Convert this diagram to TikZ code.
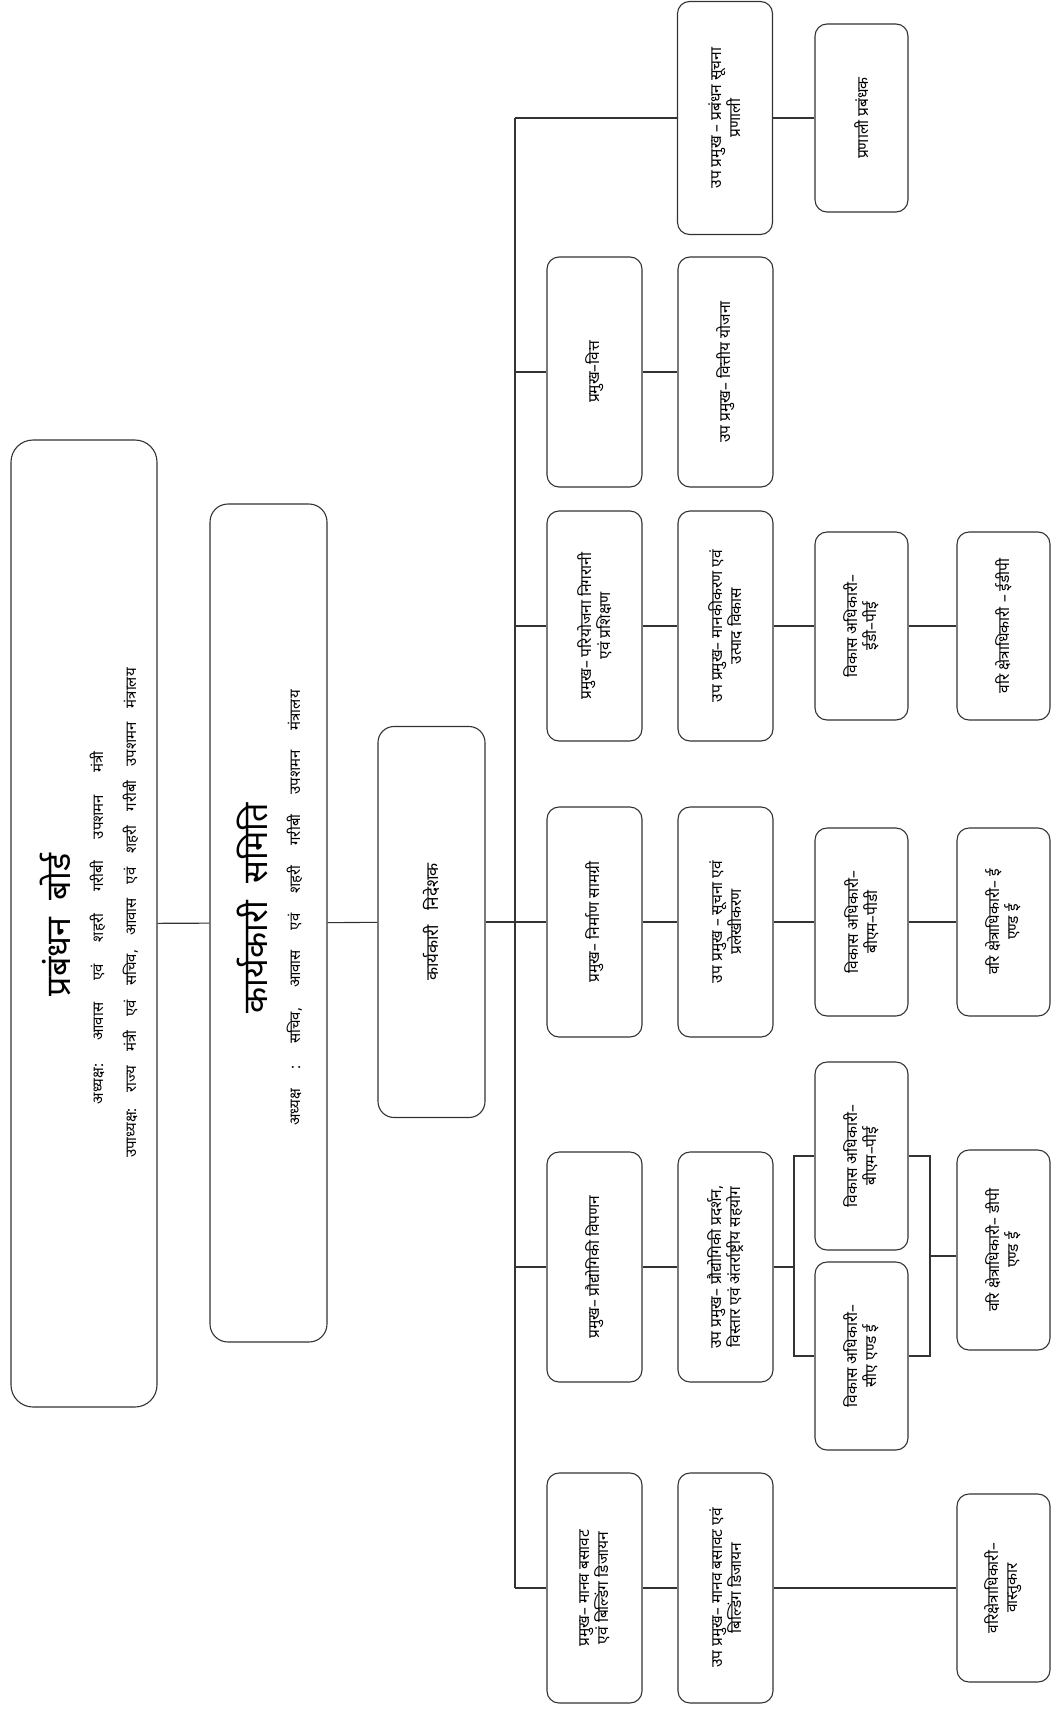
\documentclass[tikz,border=0pt]{standalone}
\usepackage{fontspec}
\newfontfamily\dev[Script=Devanagari]{Noto Sans}
\newcommand\wsA{\spaceskip=22pt plus 2pt\relax}
\newcommand\wsB{\spaceskip=14pt plus 2pt\relax}
\newcommand\wsC{\spaceskip=20pt plus 2pt\relax}
\newcommand\wsD{\spaceskip=14pt plus 2pt\relax}
\begin{document}
\begin{tikzpicture}[x=1pt,y=-1pt,
  line width=1.1pt, draw=black!80,
  box/.style={draw=black!80, rounded corners=12pt, line width=1.1pt, rotate=90, align=center, inner sep=2pt, font=\dev\fontsize{15.5}{19}\selectfont},
  headbox/.style={box, minimum width=230, minimum height=95},
  smallbox/.style={box, minimum width=188, minimum height=93},
  txt/.style={rotate=90, inner sep=0pt, align=center},
  conn/.style={line width=1.1pt, draw=black!80}
]
\useasboundingbox (0,0) rectangle (1058,1710);
% top levels
\node[box, rounded corners=22pt, minimum width=967, minimum height=146] (board) at (84,923.5) {};
\node[txt, font=\dev\fontsize{34}{40}\selectfont] (boardT) at (55,925) {प्रबंधन\ \ बोर्ड};
\node[txt, font=\dev\fontsize{15}{16}\selectfont] (boardA) at (98,928) {\wsA अध्यक्ष: आवास एवं शहरी गरीबी उपशमन मंत्री};
\node[txt, font=\dev\fontsize{15}{16}\selectfont] (boardB) at (131,913) {\wsB उपाध्यक्ष: राज्य मंत्री एवं सचिव, आवास एवं शहरी गरीबी उपशमन मंत्रालय};
\node[box, rounded corners=18pt, minimum width=838, minimum height=117] (exec) at (268.5,923) {};
\node[txt, font=\dev\fontsize{34}{40}\selectfont] (execT) at (253,908) {कार्यकारी\ \ समिति};
\node[txt, font=\dev\fontsize{15}{16}\selectfont] (execA) at (295,908) {\wsC अध्यक्ष : सचिव, आवास एवं शहरी गरीबी उपशमन मंत्रालय};
\node[box, rounded corners=16pt, minimum width=391, minimum height=107, font=\dev\fontsize{17}{20}\selectfont] (dir) at (431.5,922) {\wsD कार्यकारी निदेशक};
% bus
\coordinate (busTop) at (515,118);
\coordinate (busBot) at (515,1588);
% row 1
\node[headbox] (h1) at (594.5,1588) {प्रमुख– मानव बसावट\\एवं बिल्डिंग डिजायन};
\node[headbox] (s1) at (725.5,1588) {उप प्रमुख– मानव बसावट एवं\\बिल्डिंग डिजायन};
\node[smallbox] (w1) at (1003.5,1588) {वरिक्षेत्राधिकारी–\\वास्तुकार};
% row 2
\node[headbox] (h2) at (594.5,1267) {प्रमुख– प्रौद्योगिकी विपणन};
\node[headbox] (s2) at (725.5,1267) {उप प्रमुख– प्रौद्योगिकी प्रदर्शन,\\विस्तार एवं अंतर्राष्ट्रीय सहयोग};
\node[smallbox] (v2a) at (861.5,1156) {विकास अधिकारी–\\बीएम–पीई};
\node[smallbox] (v2b) at (861.5,1356) {विकास अधिकारी–\\सीए एण्ड ई};
\node[smallbox, minimum width=200] (w2) at (1003.5,1250) {वरि क्षेत्राधिकारी– डीपी\\एण्ड ई};
\coordinate (bL) at (794,1256);
\coordinate (bR) at (930,1256);
% row 3
\node[headbox] (h3) at (594.5,922) {प्रमुख– निर्माण सामग्री};
\node[headbox] (s3) at (725.5,922) {उप प्रमुख – सूचना एवं\\प्रलेखीकरण};
\node[smallbox] (v3) at (861.5,922) {विकास अधिकारी–\\बीएम–पीडी};
\node[smallbox] (w3) at (1003.5,922) {वरि क्षेत्राधिकारी– ई\\एण्ड ई};
% row 4
\node[headbox] (h4) at (594.5,626) {प्रमुख– परियोजना निगरानी\\एवं प्रशिक्षण};
\node[headbox] (s4) at (725.5,626) {उप प्रमुख– मानकीकरण एवं\\उत्पाद विकास};
\node[smallbox] (v4) at (861.5,626) {विकास अधिकारी–\\ईडी–पीई};
\node[smallbox] (w4) at (1003.5,626) {वरि क्षेत्राधिकारी – ईडीपी};
% row 5
\node[headbox] (h5) at (594.5,372) {प्रमुख–वित्त};
\node[headbox] (s5) at (725.5,372) {उप प्रमुख– वित्तीय योजना};
% row 6
\node[headbox, minimum width=233] (s6) at (725,118) {उप प्रमुख – प्रबंधन सूचना\\प्रणाली};
\node[smallbox] (p6) at (861.5,118) {प्रणाली प्रबंधक};
% connectors
\draw[conn] (board) -- (exec);
\draw[conn] (exec) -- (dir);
\draw[conn] (dir) -- (dir -| busTop);
\draw[conn] (busTop) -- (busBot);
\foreach \n in {h1,h2,h3,h4,h5,s6} { \draw[conn] (\n -| busTop) -- (\n); }
\draw[conn] (h1) -- (s1);
\draw[conn] (h2) -- (s2);
\draw[conn] (h3) -- (s3);
\draw[conn] (h4) -- (s4);
\draw[conn] (h5) -- (s5);
\draw[conn] (s1) -- (w1);
\draw[conn] (s2) -- (s2 -| bL);
\draw[conn] (v2a) -- (v2a -| bL) -- (v2b -| bL) -- (v2b);
\draw[conn] (v2a) -- (v2a -| bR) -- (v2b -| bR) -- (v2b);
\draw[conn] (bR) -- (bR -| w2.north);
\draw[conn] (s3) -- (v3);
\draw[conn] (v3) -- (w3);
\draw[conn] (s4) -- (v4);
\draw[conn] (v4) -- (w4);
\draw[conn] (s6) -- (p6);
\end{tikzpicture}
\end{document}
